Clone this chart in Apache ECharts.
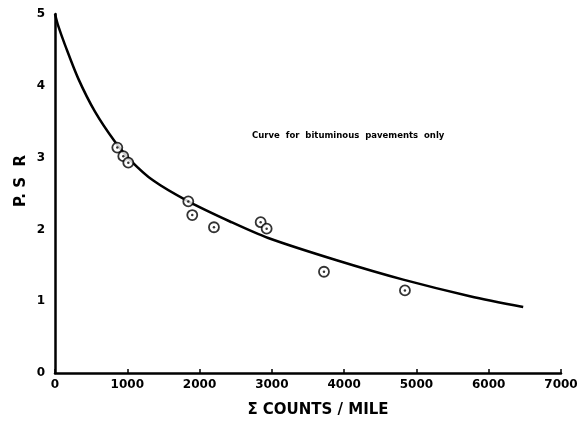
<!DOCTYPE html>
<html>
<head>
<meta charset="utf-8">
<script src="https://cdn.jsdelivr.net/npm/echarts@6/dist/echarts.min.js"></script>
<style>html,body{margin:0;padding:0;background:#fff}#c{width:585px;height:431px}</style>
</head>
<body>
<div id="c"></div>
<script>
// Observed data points (Σ counts/mile, PSR)
var pointX = [862, 945, 1014, 1844, 1899, 2199, 2845, 2928, 3721, 4841];
var pointY = [3.14, 3.02, 2.93, 2.39, 2.20, 2.03, 2.10, 2.01, 1.41, 1.15];
// Fitted curve
var curveX = [0, 46, 138, 322, 553, 830, 1037, 1360, 1844, 2420, 2950, 3896, 4817, 5740, 6477];
var curveY = [5.0, 4.83, 4.57, 4.10, 3.64, 3.22, 2.97, 2.68, 2.39, 2.11, 1.88, 1.57, 1.30, 1.07, 0.92];
var xTicks = [0, 1000, 2000, 3000, 4000, 5000, 6000, 7000];
var yTicks = [0, 1, 2, 3, 4, 5];
var xTitle = 'Σ COUNTS / MILE';
var yTitle = 'P. S  R';
var note = 'Curve  for  bituminous  pavements  only';

var pts = pointX.map(function(x, i){ return [x, pointY[i]]; });
var curve = curveX.map(function(x, i){ return [x, curveY[i]]; });
var font = 'DejaVu Sans';

var chart = echarts.init(document.getElementById('c'));
chart.setOption({
  animation: false,
  backgroundColor: '#fff',
  grid: {left: 55, right: 24, top: 14, bottom: 58},
  xAxis: {
    type: 'value', min: xTicks[0], max: xTicks[xTicks.length-1], interval: 1000,
    axisLine: {show: true, lineStyle: {color: '#000', width: 2.5}},
    axisTick: {show: true, inside: true, length: 4, lineStyle: {color: '#000', width: 1.5}},
    splitLine: {show: false},
    axisLabel: {color: '#000', fontFamily: font, fontWeight: 'bold', fontSize: 12, margin: 6,
      formatter: function(v){ return String(v); }},
    name: xTitle, nameLocation: 'middle', nameGap: 30,
    nameTextStyle: {color: '#000', fontFamily: font, fontWeight: 'bold', fontSize: 15, padding: [0, 0, 0, 20]}
  },
  yAxis: {
    type: 'value', min: yTicks[0], max: yTicks[yTicks.length-1], interval: 1,
    axisLine: {show: true, lineStyle: {color: '#000', width: 2.5}},
    axisTick: {show: false},
    splitLine: {show: false},
    axisLabel: {color: '#000', fontFamily: font, fontWeight: 'bold', fontSize: 12, margin: 10}
  },
  graphic: [
    {type: 'text', x: 14, y: 207, rotation: Math.PI/2, style: {text: yTitle, fill: '#000', font: 'bold 15px "DejaVu Sans"'}},
    {type: 'text', x: 252, y: 131, style: {text: note, fill: '#000', font: 'bold 8.5px "DejaVu Sans"'}}
  ],
  series: [
    {type: 'line', data: curve, smooth: 0.3, showSymbol: false,
     lineStyle: {color: '#000', width: 2.5}, z: 2},
    {type: 'scatter', data: pts, symbol: 'circle', symbolSize: 10,
     itemStyle: {color: '#fff', borderColor: '#000', borderWidth: 1.8}, z: 3},
    {type: 'scatter', data: pts, symbol: 'circle', symbolSize: 2.5,
     itemStyle: {color: '#000'}, z: 4}
  ]
});
</script>
</body>
</html>
